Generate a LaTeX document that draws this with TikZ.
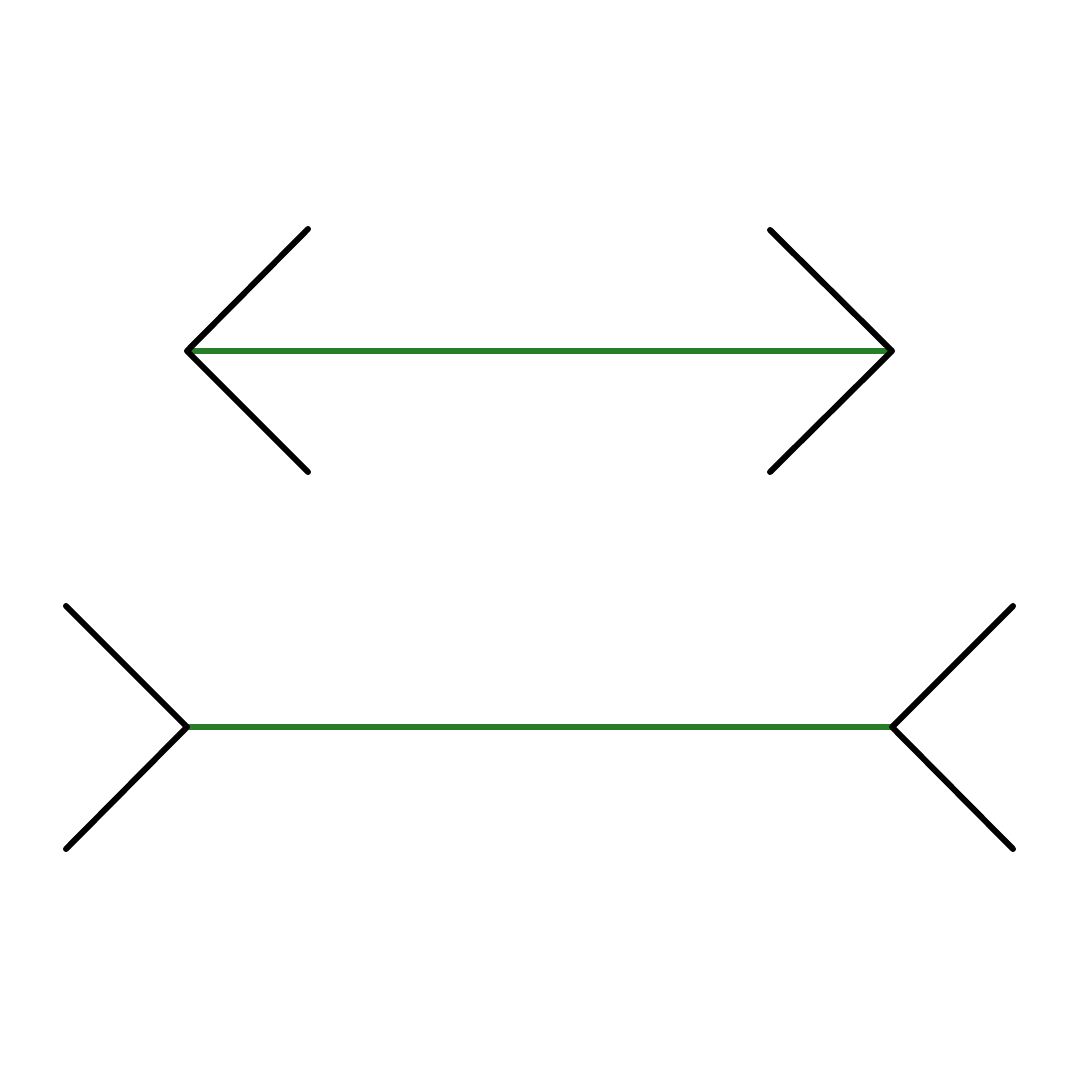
\documentclass[tikz,border=0pt]{standalone}
\definecolor{shaftgreen}{RGB}{40,125,40}
\tikzset{
  shaft/.style={draw=shaftgreen, line width=1.7pt},
  fin/.style={draw=black, line width=1.7pt, line cap=round, line join=round}
}
\begin{document}
\begin{tikzpicture}[x=0.01cm,y=-0.01cm]
\useasboundingbox (0,0) rectangle (1080,1080);
% top figure
\coordinate (tl) at (187,351);
\coordinate (tr) at (892,351);
\coordinate (tlu) at (308,229);
\coordinate (tld) at (308,472);
\coordinate (tru) at (770,230);
\coordinate (trd) at (770,472);
% bottom figure
\coordinate (bl) at (187,727);
\coordinate (br) at (892,727);
\coordinate (blu) at (66,606);
\coordinate (bld) at (66,849);
\coordinate (bru) at (1013,606);
\coordinate (brd) at (1013,849);
\draw[shaft] (tl) -- (tr);
\draw[shaft] (bl) -- (br);
\draw[fin] (tlu) -- (tl) -- (tld);
\draw[fin] (tru) -- (tr) -- (trd);
\draw[fin] (blu) -- (bl) -- (bld);
\draw[fin] (bru) -- (br) -- (brd);
\end{tikzpicture}
\end{document}
